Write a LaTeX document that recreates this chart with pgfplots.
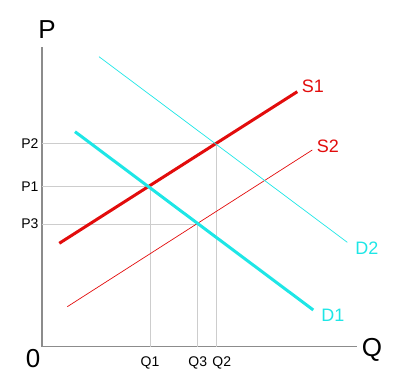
\documentclass[border=0pt]{standalone}
\usepackage{pgfplots}
\pgfplotsset{compat=1.18}
\usepackage{fontspec}
\setmainfont{Liberation Sans}
\definecolor{sred}{RGB}{226,12,12}
\definecolor{dcyan}{RGB}{30,230,230}
\definecolor{axgray}{RGB}{140,140,140}
\definecolor{guide}{RGB}{205,205,205}
\begin{document}
\begin{tikzpicture}[x=1pt,y=1pt]
\begin{axis}[
  scale only axis, width=315pt, height=300pt,
  xmin=0, xmax=315, ymin=0, ymax=300,
  axis x line=bottom, axis y line=left,
  axis line style={-, draw=axgray, line width=1.5pt},
  xtick={108,155.7,174.7}, xticklabels={Q1,Q3\hspace{7pt},\hspace{10pt}Q2},
  ytick={122.7,160,203.4}, yticklabels={P3,P1,P2},
  major tick length=0pt,
  tick label style={font=\fontsize{14}{16}\selectfont, text=black},
  xticklabel style={yshift=-6pt},
  clip=false,
]
% guide lines
\addplot[guide, line width=0.8pt] coordinates {(0,203.4) (174.7,203.4) (174.7,0)};
\addplot[guide, line width=0.8pt] coordinates {(0,160) (108,160) (108,0)};
\addplot[guide, line width=0.8pt] coordinates {(0,122.7) (155.7,122.7) (155.7,0)};
% supply
\addplot[sred, line width=3pt] coordinates {(17.3,103.4) (255.3,255)};
\addplot[sred, line width=0.7pt] coordinates {(25.3,40) (270.3,196.7)};
% demand
\addplot[dcyan, line width=3pt] coordinates {(33,215) (271.3,36.7)};
\addplot[dcyan, line width=0.7pt] coordinates {(57,290) (305.3,104.4)};
% labels
\node[text=sred, font=\fontsize{18}{20}\selectfont] at (axis cs:271,260.7) {S1};
\node[text=sred, font=\fontsize{18}{20}\selectfont] at (axis cs:286,200) {S2};
\node[text=dcyan, font=\fontsize{18}{20}\selectfont] at (axis cs:325,98.7) {D2};
\node[text=dcyan, font=\fontsize{18}{20}\selectfont] at (axis cs:291,31) {D1};
\node[font=\fontsize{26}{28}\selectfont] at (axis cs:5,316.7) {P};
\node[font=\fontsize{26}{28}\selectfont] at (axis cs:330,-3.3) {Q};
\node[font=\fontsize{26}{28}\selectfont] at (axis cs:-9,-12.3) {0};
\path (axis cs:-42,-43.3) rectangle (axis cs:358,346.7);
\end{axis}
\end{tikzpicture}
\end{document}
